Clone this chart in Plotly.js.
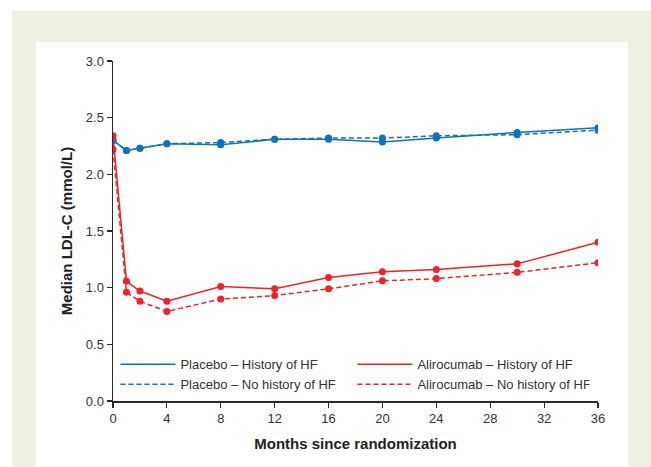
<!DOCTYPE html>
<html><head><meta charset="utf-8">
<script src="https://cdn.plot.ly/plotly-3.0.1.min.js"></script>
<style>
html,body{margin:0;padding:0;background:#fff;}
#wrap{position:relative;width:651px;height:467px;overflow:hidden;background:#fff;}
#beige{position:absolute;left:12px;top:11px;width:639px;height:456px;background:#efefe4;}
#plot{position:absolute;left:36px;top:42px;width:592px;height:425px;}
</style></head>
<body><div id="wrap"><div id="beige"></div><div id="plot"></div></div>
<script>
const months = [0, 1, 2, 4, 8, 12, 16, 20, 24, 30, 36];
const placeboHist   = [2.30, 2.21, 2.23, 2.27, 2.26, 2.31, 2.31, 2.285, 2.32, 2.37, 2.41];
const placeboNoHist = [2.30, 2.21, 2.23, 2.27, 2.28, 2.31, 2.32, 2.32, 2.34, 2.35, 2.39];
const aliroHist     = [2.34, 1.056, 0.97, 0.88, 1.01, 0.99, 1.09, 1.14, 1.16, 1.21, 1.40];
const aliroNoHist   = [2.22, 0.96, 0.88, 0.79, 0.90, 0.93, 0.99, 1.06, 1.08, 1.135, 1.22];
const names = ["Placebo \u2013 History of HF", "Alirocumab \u2013 History of HF",
               "Placebo \u2013 No history of HF", "Alirocumab \u2013 No history of HF"];
const xTicks = [0, 4, 8, 12, 16, 20, 24, 28, 32, 36];
const yTicks = [0, 0.5, 1.0, 1.5, 2.0, 2.5, 3.0];
const yTickText = ["0.0", "0.5", "1.0", "1.5", "2.0", "2.5", "3.0"];

const blue = "#1170bf", red = "#ee2229";
const dashPat = "5px,3px";
function tr(y, color, dash){
  return {x: months, y: y, type: "scatter", mode: "lines+markers", showlegend: false,
    line: {color: color, width: 1.5, dash: dash}, marker: {color: color, size: 7}};
}
function leg(name, color, dash){
  return {x: [null], y: [null], name: name, type: "scatter", mode: "lines",
    line: {color: color, width: 1.5, dash: dash}};
}
const data = [
  tr(placeboHist, blue, "solid"),
  tr(placeboNoHist, blue, dashPat),
  tr(aliroHist, red, "solid"),
  tr(aliroNoHist, red, dashPat),
  leg(names[0], blue, "solid"),
  leg(names[1], red, "solid"),
  leg(names[2], blue, dashPat),
  leg(names[3], red, dashPat)
];
const layout = {
  width: 592, height: 425,
  margin: {l: 77, r: 30, t: 19, b: 66},
  paper_bgcolor: "#fff", plot_bgcolor: "#fff",
  font: {family: "Liberation Sans, Arial, sans-serif", size: 13, color: "#333"},
  showlegend: true,
  legend: {orientation: "h", x: 0.005, y: 0.152, xanchor: "left", yanchor: "top",
    itemwidth: 55, entrywidth: 167, entrywidthmode: "pixels", tracegroupgap: 0,
    font: {size: 13, color: "#333"}, bgcolor: "rgba(0,0,0,0)"},
  xaxis: {range: [0, 36], tickvals: xTicks, ticktext: xTicks.map(String),
    showgrid: false, zeroline: false, showline: true, linecolor: "#2a2a2a", linewidth: 1.5,
    ticks: "outside", ticklen: 5, tickcolor: "#2a2a2a", tickwidth: 1.2,
    tickfont: {size: 13, color: "#333"},
    title: {text: "<b>Months since randomization</b>", font: {size: 15, color: "#222"}, standoff: 13}},
  yaxis: {range: [0, 3.0], tickvals: yTicks, ticktext: yTickText,
    showgrid: false, zeroline: false, showline: true, linecolor: "#2a2a2a", linewidth: 1.5,
    ticks: "outside", ticklen: 5, tickcolor: "#2a2a2a", tickwidth: 1.2,
    tickfont: {size: 13, color: "#333"},
    title: {text: "<b>Median LDL-C (mmol/L)</b>", font: {size: 15, color: "#222"}, standoff: 9}}
};
Plotly.newPlot("plot", data, layout, {displayModeBar: false, staticPlot: true});
</script></body></html>
